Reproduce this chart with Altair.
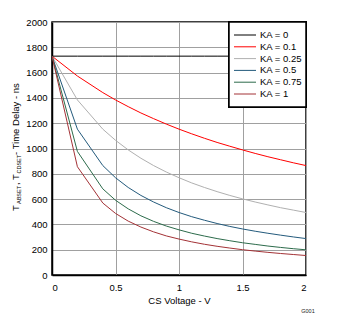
import altair as alt
import pandas as pd

# ---- data ----
cs_voltage = [0.0, 0.2, 0.4, 0.5, 0.6, 0.7, 0.8, 0.9, 1.0, 1.1, 1.2, 1.3, 1.4, 1.5, 1.6, 1.7, 1.8, 1.9, 2.0]
ka_0    = [1730, 1730, 1730, 1730, 1730, 1730, 1730, 1730, 1730, 1730, 1730, 1730, 1730, 1730, 1730, 1730, 1730, 1730, 1730]
ka_0_1  = [1730, 1573, 1442, 1384, 1331, 1281, 1236, 1193, 1153, 1116, 1081, 1048, 1018, 989, 961, 935, 911, 887, 865]
ka_0_25 = [1730, 1384, 1153, 1065, 989, 923, 865, 814, 769, 728, 692, 659, 629, 602, 577, 554, 532, 513, 494]
ka_0_5  = [1730, 1153, 865, 769, 692, 629, 577, 532, 494, 461, 433, 407, 384, 364, 346, 330, 315, 301, 288]
ka_0_75 = [1730, 977, 681, 591, 523, 468, 424, 387, 357, 330, 308, 288, 271, 255, 242, 229, 218, 208, 199]
ka_1    = [1730, 856, 569, 487, 426, 379, 341, 309, 284, 262, 243, 227, 213, 200, 189, 179, 170, 162, 154]

series_names = ["KA = 0", "KA = 0.1", "KA = 0.25", "KA = 0.5", "KA = 0.75", "KA = 1"]
series_vals = [ka_0, ka_0_1, ka_0_25, ka_0_5, ka_0_75, ka_1]
series_colors = ["#000000", "#ff0000", "#b0b0b0", "#235a7c", "#2c6b4b", "#a33236"]

x_ticks = [0, 0.5, 1, 1.5, 2]
y_ticks = [0, 200, 400, 600, 800, 1000, 1200, 1400, 1600, 1800, 2000]

rows = []
for name, vals in zip(series_names, series_vals):
    for v, t in zip(cs_voltage, vals):
        rows.append({"V": v, "T": t, "KA": name, "order": series_names.index(name)})
df = pd.DataFrame(rows)

FONT = "Liberation Sans"
W, H = 254, 253

color = alt.Color("KA:N", scale=alt.Scale(domain=series_names, range=series_colors), legend=None)

lines = alt.Chart(df).mark_line(strokeWidth=1, clip=True).encode(
    x=alt.X("V:Q", scale=alt.Scale(domain=[0, 2], nice=False),
            axis=alt.Axis(values=x_ticks, title="CS Voltage - V", format="~g",
                          grid=True, gridColor="#a0a0a0", gridWidth=1,
                          tickSize=0, labelPadding=7, titlePadding=4,
                          domainColor="black", domainWidth=1.5)),
    y=alt.Y("T:Q", scale=alt.Scale(domain=[0, 2000], nice=False),
            axis=alt.Axis(values=y_ticks, title=None, format="d",
                          grid=True, gridColor="#a0a0a0", gridWidth=1,
                          tickSize=0, labelPadding=5,
                          domainColor="black", domainWidth=1.5)),
    color=color,
    detail="order:N",
)

# legend (manual, inside top-right)
leg_df = pd.DataFrame({"KA": series_names, "ly": [13 + i * 11.8 for i in range(len(series_names))]})
leg_box = alt.Chart(leg_df).mark_rect(fill="white", stroke="black", strokeWidth=1.5).encode(
    x=alt.value(177), x2=alt.value(254), y=alt.value(0), y2=alt.value(85)
)
leg_lines = alt.Chart(leg_df).mark_rule(strokeWidth=1).encode(
    x=alt.value(182), x2=alt.value(204), y=alt.Y("ly:Q", scale=None), color=color
)
leg_text = alt.Chart(leg_df).mark_text(align="left", baseline="middle", font=FONT, fontSize=9.5, color="black").encode(
    x=alt.value(208), y=alt.Y("ly:Q", scale=None), text="KA:N"
)

# y title with subscripts
title_parts = [
    ("T", 9.5, -36.2, 189),
    ("ABSET", 5.5, -33.0, 182),
    (", T", 9.5, -36.2, 163),
    ("CDSET", 5.5, -33.0, 151.5),
    (" - Time Delay - ns", 9.5, -36.2, 133),
]
ytitle_layers = []
for txt, sz, px, py in title_parts:
    ytitle_layers.append(
        alt.Chart(leg_df.head(1)).mark_text(align="left", baseline="middle", angle=270,
                                            font=FONT, fontSize=sz, color="black").encode(
            x=alt.value(px), y=alt.value(py), text=alt.value(txt)
        )
    )

g001 = alt.Chart(leg_df.head(1)).mark_text(align="center", baseline="middle", font=FONT,
                                            fontSize=5.5, color="#222222").encode(
    x=alt.value(256), y=alt.value(289), text=alt.value("G001")
)

chart = alt.layer(lines, leg_box, leg_lines, leg_text, g001, *ytitle_layers).properties(
    width=W, height=H,
    background="white",
    autosize=alt.AutoSizeParams(type="none"),
    padding={"left": 52, "top": 22, "right": 32, "bottom": 60},
).configure_view(stroke="black", strokeWidth=1.5).configure_axis(
    labelFont=FONT, labelFontSize=9.5, labelColor="black",
    titleFont=FONT, titleFontSize=9.5, titleFontWeight="normal", titleColor="black",
)

chart.save("out.html", embed_options={"renderer": "svg", "actions": False})
